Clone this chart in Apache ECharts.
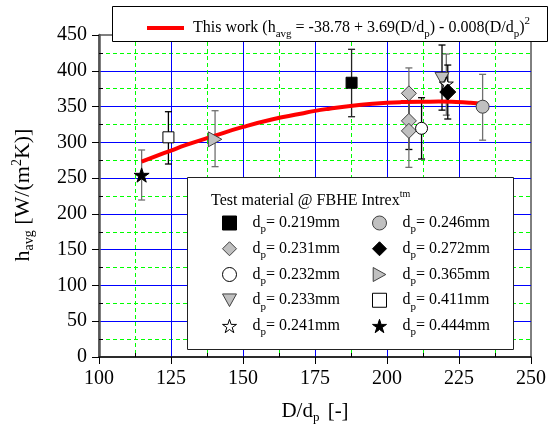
<!DOCTYPE html>
<html><head><meta charset="utf-8">
<script src="https://cdn.jsdelivr.net/npm/echarts@6/dist/echarts.min.js"></script>
<style>html,body{margin:0;padding:0;background:#fff}#c{width:550px;height:430px}</style>
</head><body><div id="c"></div>
<script>
// ---- data ----
const xTickLabels = [100, 125, 150, 175, 200, 225, 250];
const yTickLabels = [0, 50, 100, 150, 200, 250, 300, 350, 400, 450];

// fitted curve as drawn (D/dp, h_avg)
const fitX = [114.8, 120, 125, 130, 140, 150, 160, 170, 175, 180, 188, 195, 200, 205, 212, 218, 224, 229, 233];
const fitY = [273, 281, 288.5, 296, 309, 321.5, 332, 340, 344, 347, 351, 353.8, 355.3, 356.2, 356.8, 356.9, 356.3, 355.2, 353.8];

// each row: [D/dp, h_avg, lower error, upper error]
const m219 = [[187.7, 383.3, 335.8, 430.0]];
const m231 = [[207.6, 368.5, 332.0, 404.0], [207.6, 330.0, 290.0, 368.5], [207.6, 316.0, 265.0, 367.0]];
const m232 = [[212.0, 319.6, 276.7, 362.4]];
const m233 = [[219.1, 389.0, 345.0, 436.0]];
const m241 = [[220.6, 382.0, 338.0, 423.4]];
const m246 = [[233.2, 349.8, 303.0, 395.0]];
const m272 = [[221.1, 370.3, 332.6, 408.0]];
const m365 = [[140.3, 304.2, 266.0, 344.2]];
const m411 = [[124.1, 307.0, 269.7, 342.8]];
const m444 = [[114.8, 254.3, 219.4, 289.3]];

const col1 = ['0.219', '0.231', '0.232', '0.233', '0.241'];
const col2 = ['0.246', '0.272', '0.365', '0.411', '0.444'];

// ---- styles ----
const FONT = 'Liberation Serif';
const GRAY = '#c0c0c0', EDGE = '#404040', EGRAY = '#707070';
const STAR = 'path://M50,0L61.2,34.5L97.6,34.5L68.2,55.9L79.4,90.5L50,69.1L20.6,90.5L31.8,55.9L2.4,34.5L38.8,34.5Z';
const TRI_DOWN = 'path://M0,0L10,0L5,9Z';
const TRI_RIGHT = 'path://M0,0L9,5L0,10Z';

function sc(name, rows, symbol, size, fill, border) {
  return {
    type: 'scatter', name: name, data: rows.map(r => [r[0], r[1]]),
    symbol: symbol, symbolSize: size, symbolKeepAspect: true,
    itemStyle: { color: fill, borderColor: border, borderWidth: 1, opacity: 1 },
    z: 6, silent: true, emphasis: { disabled: true }
  };
}
function eb(rows, colors) {
  return {
    type: 'custom', name: 'err', data: rows.map(r => [r[0], r[2], r[3]]),
    encode: { x: 0, y: [1, 2] }, z: 4, silent: true,
    renderItem: function (params, api) {
      const x = api.value(0);
      const a = api.coord([x, api.value(1)]);
      const b = api.coord([x, api.value(2)]);
      const c = 3.5;
      const col = Array.isArray(colors) ? colors[params.dataIndex] : colors;
      const st = { stroke: col, lineWidth: 1.3 };
      return { type: 'group', children: [
        { type: 'line', shape: { x1: a[0], y1: a[1], x2: b[0], y2: b[1] }, style: st },
        { type: 'line', shape: { x1: a[0] - c, y1: a[1], x2: a[0] + c, y2: a[1] }, style: st },
        { type: 'line', shape: { x1: b[0] - c, y1: b[1], x2: b[0] + c, y2: b[1] }, style: st }
      ]};
    }
  };
}

const legRich = {
  a: { fontFamily: FONT, fontSize: 16, lineHeight: 24, verticalAlign: 'middle', color: '#000', padding: [0, 0, 0, 11] },
  s: { fontFamily: FONT, fontSize: 11, lineHeight: 7, verticalAlign: 'bottom', color: '#000' },
  b: { fontFamily: FONT, fontSize: 16, lineHeight: 24, verticalAlign: 'middle', color: '#000' }
};
const legFmt = name => '{a|d}{s|p}{b|= ' + name + 'mm}';

const topRich = {
  a0: { fontFamily: FONT, fontSize: 16, lineHeight: 24, verticalAlign: 'middle', color: '#000', padding: [0, 0, 0, 4] },
  a: { fontFamily: FONT, fontSize: 16, lineHeight: 24, verticalAlign: 'middle', color: '#000' },
  s: { fontFamily: FONT, fontSize: 11, lineHeight: 8, verticalAlign: 'bottom', color: '#000' },
  u: { fontFamily: FONT, fontSize: 11, lineHeight: 12, verticalAlign: 'top', color: '#000' }
};

function makeAxis(extra) {
  return Object.assign({
    type: 'value',
    axisTick: { show: true, inside: false, length: 7, lineStyle: { color: '#000', width: 1 } },
    minorTick: { show: true, splitNumber: 2, length: -4, lineStyle: { color: '#000', width: 1 } },
    splitLine: { show: true, showMinLine: false, showMaxLine: false, lineStyle: { color: '#0000ff', width: 1, type: 'solid', opacity: 1 } },
    minorSplitLine: { show: true, lineStyle: { color: '#00ff00', width: 1, type: [4, 3], opacity: 1 } }
  }, extra);
}

const option = {
  animation: false,
  backgroundColor: '#fff',
  grid: { left: 99, right: 19, top: 35, bottom: 73, containLabel: false, outerBoundsMode: 'none',
    show: true, borderColor: '#000', borderWidth: 1, backgroundColor: 'transparent' },
  xAxis: makeAxis({
    min: 100, max: 250, interval: 25,
    axisLine: { show: true, onZero: false, lineStyle: { color: '#111', width: 1.5 } },
    axisLabel: { fontFamily: FONT, fontSize: 20, color: '#000', margin: 12,
      formatter: v => xTickLabels.includes(v) ? String(v) : '' }
  }),
  yAxis: makeAxis({
    min: 0, max: 450, interval: 50,
    axisLine: { show: true, onZero: false, lineStyle: { color: '#555', width: 2.5 } },
    axisLabel: { fontFamily: FONT, fontSize: 20, color: '#000', margin: 12,
      formatter: v => yTickLabels.includes(v) ? String(v) : '' }
  }),
  legend: [
    {
      data: ['fit'], left: 145, top: 16, padding: 0, itemWidth: 37, itemHeight: 10,
      selectedMode: false, z: 60,
      itemStyle: { color: 'rgba(0,0,0,0)', borderWidth: 0, opacity: 0 },
      lineStyle: { color: '#ff0000', width: 4 },
      formatter: () => '{a0|This work (h}{s|avg}{a| = -38.78 + 3.69(D/d}{s|p}{a|) - 0.008(D/d}{s|p}{a|)}{u|2}',
      textStyle: { rich: topRich }
    },
    {
      data: col1, orient: 'vertical', left: 222, top: 215, padding: 0, itemGap: 5.75,
      itemWidth: 14, itemHeight: 14, selectedMode: false, z: 60,
      itemStyle: { borderWidth: 1 },
      formatter: legFmt, textStyle: { rich: legRich }
    },
    {
      data: col2, orient: 'vertical', left: 372, top: 215, padding: 0, itemGap: 5.75,
      itemWidth: 14, itemHeight: 14, selectedMode: false, z: 60,
      itemStyle: { borderWidth: 1 },
      formatter: legFmt, textStyle: { rich: legRich }
    }
  ],
  graphic: { elements: [
    { type: 'rect', z: 50, silent: true, shape: { x: 112.5, y: 6.5, width: 435, height: 35 },
      style: { fill: '#fff', stroke: '#000', lineWidth: 1 } },
    { type: 'rect', z: 50, silent: true, shape: { x: 187.5, y: 177.5, width: 326, height: 172 },
      style: { fill: '#fff', stroke: '#222', lineWidth: 1 } },
    { type: 'text', z: 60, silent: true, x: 211, y: 201,
      style: { text: '{a|Test material @ FBHE Intrex}{u|tm}', align: 'left', verticalAlign: 'middle',
        rich: {
          a: { fontFamily: FONT, fontSize: 16, lineHeight: 24, verticalAlign: 'middle', color: '#000' },
          u: { fontFamily: FONT, fontSize: 10, lineHeight: 10, verticalAlign: 'top', color: '#000' }
        } } },
    { type: 'text', z: 60, silent: true, x: 315, y: 411,
      style: { text: '{a|D/d}{s|p}{b| [-]}', align: 'center', verticalAlign: 'middle',
        rich: {
          a: { fontFamily: FONT, fontSize: 21, lineHeight: 26, verticalAlign: 'middle', color: '#000' },
          b: { fontFamily: FONT, fontSize: 21, lineHeight: 26, verticalAlign: 'middle', color: '#000', padding: [0, 0, 0, 3] },
          s: { fontFamily: FONT, fontSize: 13, lineHeight: 4, verticalAlign: 'bottom', color: '#000' }
        } } },
    { type: 'text', z: 60, silent: true, x: 23, y: 195, rotation: Math.PI / 2,
      style: { text: '{a|h}{s|avg}{a| [W/(m}{u|2}{a|K)]}', align: 'center', verticalAlign: 'middle',
        rich: {
          a: { fontFamily: FONT, fontSize: 22, lineHeight: 26, verticalAlign: 'middle', color: '#000' },
          s: { fontFamily: FONT, fontSize: 14, lineHeight: 20, verticalAlign: 'bottom', color: '#000' },
          u: { fontFamily: FONT, fontSize: 14, lineHeight: 6, verticalAlign: 'top', color: '#000' }
        } } }
  ]},
  series: [
    {
      type: 'line', name: 'fit', data: fitX.map((x, i) => [x, fitY[i]]), smooth: true,
      symbol: 'none', showSymbol: false, lineStyle: { color: '#ff0000', width: 4 }, itemStyle: { color: '#ff0000' },
      z: 5, silent: true, emphasis: { disabled: true }
    },
    sc('0.219', m219, 'rect', 11, '#000', '#000'),
    sc('0.231', m231, 'diamond', 15, GRAY, EDGE),
    sc('0.232', m232, 'circle', 12, '#fff', '#000'),
    sc('0.233', m233, TRI_DOWN, 14, GRAY, EDGE),
    sc('0.241', m241, STAR, 14, '#fff', '#000'),
    sc('0.246', m246, 'circle', 13, GRAY, EDGE),
    sc('0.272', m272, 'diamond', 16, '#000', '#000'),
    sc('0.365', m365, TRI_RIGHT, 15, GRAY, EDGE),
    sc('0.411', m411, 'rect', 11, '#fff', '#000'),
    sc('0.444', m444, STAR, 15, '#000', '#000'),
    eb(m219, '#222'),
    eb(m231, [EGRAY, '#000', EGRAY]),
    eb(m232, '#000'),
    eb(m233, '#000'),
    eb(m241, EGRAY),
    eb(m246, EGRAY),
    eb(m272, '#000'),
    eb(m365, EGRAY),
    eb(m411, '#000'),
    eb(m444, EGRAY)
  ]
};
const chart = echarts.init(document.getElementById('c'), null, { renderer: 'canvas' });
chart.setOption(option);
</script>
</body></html>
